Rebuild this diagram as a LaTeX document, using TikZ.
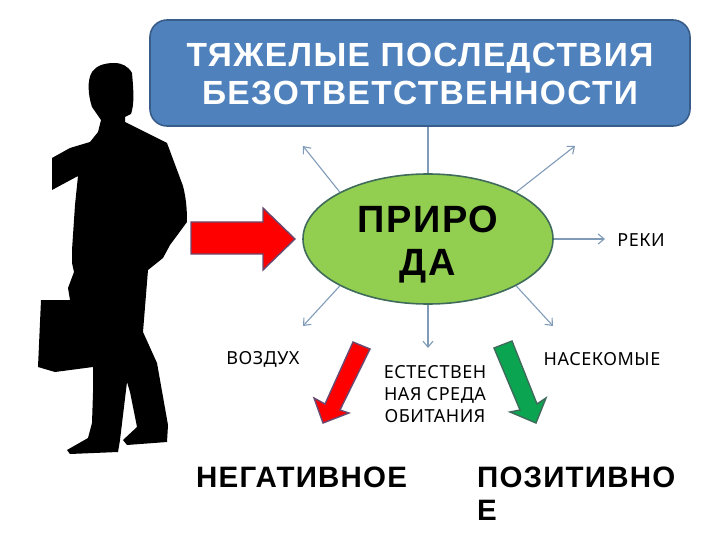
\documentclass[tikz,border=0pt]{standalone}
\usepackage{fontspec}
\setmainfont{DejaVu Sans}
\newfontfamily\hdfont[LetterSpace=4]{Liberation Sans}
\newfontfamily\lbfont[LetterSpace=3]{Noto Sans}
\usetikzlibrary{shapes.geometric,arrows.meta}
\definecolor{boxblue}{HTML}{4F81BD}
\definecolor{boxedge}{HTML}{385D8A}
\definecolor{natgreen}{HTML}{92CE50}
\definecolor{natedge}{HTML}{3F6B5B}
\definecolor{linkblue}{HTML}{7F9BB8}
\definecolor{arrowedge}{HTML}{6A4A70}
\definecolor{arrowgreen}{HTML}{0BA552}
\tikzset{
  linkline/.style={draw=linkblue,line width=1.1pt},
  linkarrow/.style={linkline,-{Straight Barb[length=6pt,width=10pt,line width=1.1pt]}},
  labeltext/.style={font=\lbfont\fontsize{18}{22}\selectfont,text=black,align=center,inner sep=0pt},
  bigtext/.style={font=\hdfont\bfseries\fontsize{29.5}{33}\selectfont,text=black,anchor=west,inner sep=0pt},
  blockarrow/.style={line width=1.4pt,line join=miter}
}
\begin{document}
\begin{tikzpicture}[x=1pt,y=-1pt]
\useasboundingbox (0,0) rectangle (720,540);
% silhouette
\fill[black] (52,158) -- (52,190) -- (78,176) -- (75,205) -- (72,250) -- (72,263) -- (74,272) -- (68,288) -- (70,300) -- (41,300) -- (38,367) -- (55,372) -- (93,367) -- (93,393) -- (92,423) -- (88,438) -- (67,450) -- (70,454) -- (118,452) -- (120,440) -- (127,382) -- (130,392) -- (137,427) -- (123,440) -- (127,445) -- (167,442) -- (168,425) -- (157,363) -- (143,332) -- (148,270) -- (163,258) -- (170,245) -- (187,222) .. controls (187,208) and (186,198) .. (183,186) -- (167,143) -- (125,122) -- (125,117) -- (131,114) .. controls (134,105) and (134,95) .. (132,73) .. controls (128,66) and (122,63) .. (114,63) .. controls (104,63) and (96,66) .. (92,72) .. controls (87,80) and (88,95) .. (92,107) -- (101,120) -- (98,132) -- (90,142) -- (70,148) -- cycle;
% title box
\node[draw=boxedge,fill=boxblue,line width=1.6pt,rounded corners=17pt,minimum width=540pt,minimum height=106pt,inner sep=0pt] (title) at (420,73) {};
\node[font=\hdfont\bfseries\fontsize{33.5}{38.5}\selectfont,text=white,align=center,inner sep=0pt] (titletext) at (420,74) {ТЯЖЕЛЫЕ ПОСЛЕДСТВИЯ\\БЕЗОТВЕТСТВЕННОСТИ};
% nature
\node[ellipse,draw=natedge,fill=natgreen,line width=1.6pt,minimum width=250pt,minimum height=130pt,inner sep=0pt] (nature) at (428,239) {};
\node[font=\hdfont\bfseries\fontsize{38}{43}\selectfont,text=black,align=center,inner sep=0pt] (naturetext) at (428,245) {ПРИРО\\ДА};
% connector ends
\coordinate (nw) at (303,146);
\coordinate (ne) at (575,146);
\coordinate (sw) at (303,326);
\coordinate (se) at (553,326);
\coordinate (s) at (428,348);
\node[labeltext,anchor=east] (rivers) at (665,240) {РЕКИ};
\coordinate (e) at (605,239);
\draw[linkline] (title.south -| nature.north) -- (nature.north);
\draw[linkarrow] (nature.152) -- (nw);
\draw[linkarrow] (nature.28) -- (ne);
\draw[linkarrow] (nature.east) -- (e);
\draw[linkarrow] (nature.208) -- (sw);
\draw[linkarrow] (nature.332) -- (se);
\draw[linkarrow] (nature.south) -- (s);
% labels
\node[labeltext] (air) at (263,359) {ВОЗДУХ};
\node[labeltext] (insects) at (602,359) {НАСЕКОМЫЕ};
\node[labeltext] (habitat) at (435,394) {ЕСТЕСТВЕН\\НАЯ СРЕДА\\ОБИТАНИЯ};
\node[bigtext] (neg) at (196,477) {НЕГАТИВНОЕ};
\node[bigtext] (pos1) at (477,477) {ПОЗИТИВНО};
\node[bigtext] (pos2) at (477,510) {Е};
% block arrows
\fill[red,draw=arrowedge,blockarrow] (191,222) -- (263,222) -- (263,208) -- (295,239) -- (263,270) -- (263,254) -- (191,254) -- cycle;
\fill[red,draw=arrowedge,blockarrow] (353,342) -- (370,349) -- (340,410) -- (349,413) -- (323,423) -- (314,398) -- (325,404) -- cycle;
\fill[arrowgreen,draw=natedge,blockarrow] (494,348) -- (512,341) -- (537,404) -- (546,398) -- (536,423) -- (510,412) -- (520,410) -- cycle;
\end{tikzpicture}
\end{document}
